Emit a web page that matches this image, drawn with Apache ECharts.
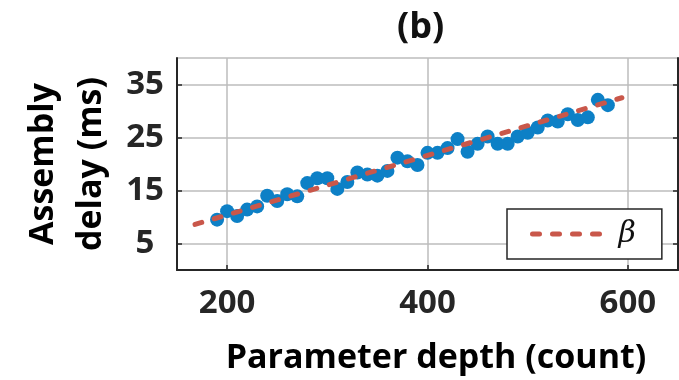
<!DOCTYPE html>
<html>
<head>
<meta charset="utf-8">
<script src="https://cdn.jsdelivr.net/npm/echarts@6/dist/echarts.min.js"></script>
<style>
  html, body { margin: 0; padding: 0; background: #fff; }
  #chart { width: 679px; height: 380px; }
</style>
</head>
<body>
<div id="chart"></div>
<script>
// measured points (parameter depth, assembly delay)
const depth = [190, 200, 210, 220, 230, 240, 250, 260, 270, 280,
               290, 300, 310, 320, 330, 340, 350, 360, 370, 380,
               390, 400, 410, 420, 430, 440, 450, 460, 470, 480,
               490, 500, 510, 520, 530, 540, 550, 560, 570, 580];
const delay = [9.5, 11.1, 10.2, 11.4, 12.0, 14.0, 13.0, 14.3, 13.9, 16.4,
               17.3, 17.3, 15.3, 16.6, 18.4, 18.0, 17.8, 18.7, 21.2, 20.5,
               19.8, 22.1, 22.1, 23.0, 24.7, 22.3, 23.8, 25.2, 23.8, 23.8,
               25.2, 25.9, 26.9, 28.2, 28.0, 29.4, 28.3, 28.8, 32.1, 31.1];
// fitted line beta (end points)
const fitX = [168, 594];
const fitY = [8.6, 32.5];

const xTicks = [200, 400, 600];
const yTicks = [5, 15, 25, 35];

const blue = "#0d80c6";
const red = "#c9574a";
const dark = "#262626";

var myChart = echarts.init(document.getElementById("chart"));

const tickFont = {
  fontFamily: "Open Sans",
  fontWeight: "bold",
  fontSize: 33,
  color: dark,
};

let option = {
  animation: false,
  title: {
    text: "(b)",
    left: 392,
    top: 5,
    textStyle: {
      fontFamily: "Open Sans",
      fontWeight: "bold",
      fontSize: 36,
      color: "#111",
    },
  },
  grid: {
    left: 177,
    top: 58,
    right: 1,
    bottom: 107,
    show: true,
    borderColor: "#bdbdbd",
    borderWidth: 1.5,
  },
  legend: {
    data: ["β"],
    left: 507,
    top: 209,
    padding: [10, 26, 10, 23],
    backgroundColor: "#fff",
    borderColor: dark,
    borderWidth: 1.5,
    borderRadius: 0,
    itemWidth: 72,
    itemHeight: 14,
    itemStyle: { opacity: 0 },
    lineStyle: { color: red, width: 5, type: [7, 13], cap: "round" },
    textStyle: {
      fontFamily: "DejaVu Serif",
      fontStyle: "italic",
      fontSize: 30,
      color: "#111",
      padding: [0, 0, 0, 9],
    },
  },
  xAxis: {
    type: "value",
    min: 150,
    max: 650,
    name: "Parameter depth (count)",
    nameLocation: "middle",
    nameGap: 71,
    nameTextStyle: {
      fontFamily: "Open Sans",
      fontWeight: "bold",
      fontSize: 34,
      color: "#000",
      padding: [0, 0, 0, 17],
    },
    axisLine: { lineStyle: { color: dark, width: 2 } },
    axisTick: {
      inside: true,
      length: 5,
      customValues: xTicks,
      lineStyle: { color: dark, width: 1.5 },
    },
    axisLabel: Object.assign({ customValues: xTicks, margin: 17 }, tickFont),
    splitLine: { show: true, lineStyle: { color: "#bdbdbd", width: 1.5 } },
  },
  yAxis: [
    {
      type: "value",
      min: 0,
      max: 40,
      name: "Assembly\ndelay (ms)",
      nameLocation: "middle",
      nameGap: 60,
      nameTextStyle: {
        fontFamily: "Open Sans",
        fontWeight: "bold",
        fontSize: 34,
        lineHeight: 48,
        color: "#000",
      },
      axisLine: { show: true, lineStyle: { color: dark, width: 2 } },
      axisTick: {
        show: true,
        inside: true,
        length: 5,
        customValues: yTicks,
        lineStyle: { color: dark, width: 1.5 },
      },
      axisLabel: Object.assign({ customValues: yTicks, margin: 32, align: "center" }, tickFont),
      splitLine: { show: true, lineStyle: { color: "#bdbdbd", width: 1.5 } },
    },
    {
      type: "value",
      position: "right",
      min: 0,
      max: 40,
      axisLine: { show: true, lineStyle: { color: dark, width: 2 } },
      axisTick: {
        show: true,
        inside: true,
        length: 5,
        customValues: yTicks,
        lineStyle: { color: dark, width: 1.5 },
      },
      axisLabel: { show: false },
      splitLine: { show: false },
    },
  ],
  series: [
    {
      name: "data",
      type: "scatter",
      symbolSize: 14,
      itemStyle: { color: blue, opacity: 1 },
      data: depth.map((x, i) => [x, delay[i]]),
      z: 2,
    },
    {
      name: "β",
      type: "line",
      symbol: "none",
      data: fitX.map((x, i) => [x, fitY[i]]),
      lineStyle: { color: red, width: 5, type: [7, 13], cap: "round" },
      itemStyle: { color: red },
      z: 3,
    },
  ],
};
myChart.setOption(option);
</script>
</body>
</html>
